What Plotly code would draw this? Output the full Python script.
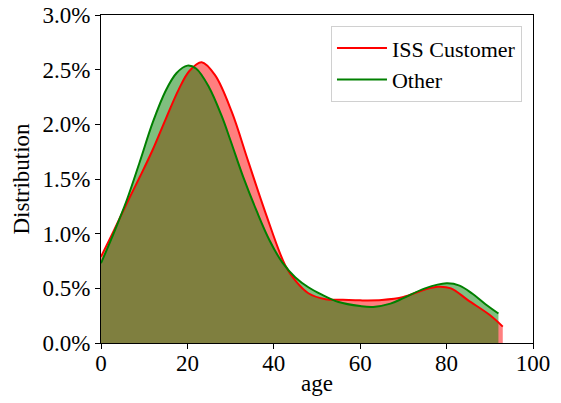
import plotly.graph_objects as go

# ---- data (age vs. density, in percent) ----
iss_age = [0, 3, 6, 9, 12, 15, 18, 20.5, 23.3, 26.4, 30.25, 34.1, 38, 42.6, 45, 48, 52, 56, 60, 65, 70, 75, 78, 81, 85, 90, 93]
iss_dist = [0.79, 1.03, 1.28, 1.52, 1.77, 2.05, 2.32, 2.49, 2.568, 2.45, 2.116, 1.659, 1.20, 0.714, 0.57, 0.455, 0.40, 0.395, 0.39, 0.393, 0.42, 0.49, 0.515, 0.50, 0.39, 0.256, 0.15]

other_age = [0, 3, 6, 9, 12, 15, 17.5, 20, 22, 25, 28, 30, 33, 36, 39, 42, 45, 48, 51, 55, 60, 63, 67, 70, 75, 80, 83, 86, 89, 92]
other_dist = [0.73, 1.01, 1.31, 1.66, 2.02, 2.31, 2.47, 2.537, 2.51, 2.34, 2.07, 1.85, 1.51, 1.21, 0.94, 0.735, 0.60, 0.51, 0.445, 0.375, 0.338, 0.33, 0.36, 0.41, 0.50, 0.546, 0.525, 0.45, 0.355, 0.27]

series_names = ["ISS Customer", "Other"]
x_ticks = [0, 20, 40, 60, 80, 100]
y_ticks = [0, 0.5, 1.0, 1.5, 2.0, 2.5, 3.0]
y_tick_labels = [f"{v:.1f}%" for v in y_ticks]

FONT = "Liberation Serif"
RED = "rgb(255,0,0)"
GREEN = "rgb(0,128,0)"
SMOOTH = 1.0

fig = go.Figure()

# fills first
fig.add_trace(go.Scatter(x=iss_age, y=iss_dist, mode="lines", fill="tozeroy",
                         line=dict(width=0, shape="spline", smoothing=SMOOTH),
                         fillcolor="rgba(255,0,0,0.5)", showlegend=False, hoverinfo="skip"))
fig.add_trace(go.Scatter(x=other_age, y=other_dist, mode="lines", fill="tozeroy",
                         line=dict(width=0, shape="spline", smoothing=SMOOTH),
                         fillcolor="rgba(0,128,0,0.5)", showlegend=False, hoverinfo="skip"))
# lines on top
fig.add_trace(go.Scatter(x=iss_age, y=iss_dist, mode="lines", name=series_names[0],
                         line=dict(color=RED, width=2, shape="spline", smoothing=SMOOTH)))
fig.add_trace(go.Scatter(x=other_age, y=other_dist, mode="lines", name=series_names[1],
                         line=dict(color=GREEN, width=2, shape="spline", smoothing=SMOOTH)))

axis_common = dict(showgrid=False, zeroline=False, showline=True, linecolor="black",
                   linewidth=1, mirror=True, ticks="outside", ticklen=5, tickwidth=1,
                   tickcolor="black", automargin=False,
                   tickfont=dict(family=FONT, size=23, color="black"))

fig.update_layout(
    width=561, height=403,
    margin=dict(l=101, r=28, t=15, b=60),
    paper_bgcolor="white", plot_bgcolor="white",
    font=dict(family=FONT, color="black"),
    xaxis=dict(range=[0, 100], tickvals=x_ticks, ticklabelstandoff=-6,
               title=dict(text="age", font=dict(family=FONT, size=23), standoff=0),
               **axis_common),
    yaxis=dict(range=[0, 3.0], tickvals=y_ticks, ticktext=y_tick_labels,
               title=dict(text="Distribution", font=dict(family=FONT, size=23), standoff=6),
               **axis_common),
    legend=dict(x=0.9745, y=0.966, xanchor="right", yanchor="top",
                bgcolor="rgba(255,255,255,0.8)", bordercolor="#d0d0d0", borderwidth=1,
                itemwidth=50,
                font=dict(family=FONT, size=22, color="black"), tracegroupgap=0),
)

fig.write_html("out.html", config={"displayModeBar": False},
               post_script="document.body.style.margin='0';document.body.style.overflow='hidden';")
